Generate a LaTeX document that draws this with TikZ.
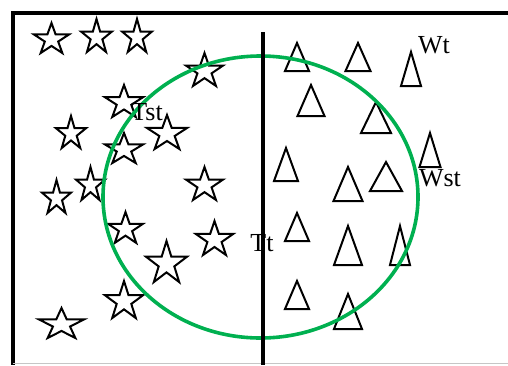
\documentclass[tikz,border=0pt]{standalone}
\usepackage{fontspec}
\setmainfont{Liberation Serif}
\usetikzlibrary{shapes.geometric}
\definecolor{ringgreen}{RGB}{0,176,80}

\tikzset{
  starmark/.style={star, star points=5, star point ratio=2.618, draw, line width=2pt, inner sep=0pt},
  trimark/.style={draw, line width=2pt, line join=miter},
  lbl/.style={font=\fontsize{26}{30}\selectfont, inner sep=0pt}
}

\begin{document}
\begin{tikzpicture}[x=1pt,y=-1pt]
  \useasboundingbox (0,0) rectangle (508,365);

  % frame
  \draw[line width=4pt] (508,12.5) -- (12.7,12.5) -- (12.7,365);
  \draw[gray!45, line width=1pt] (12.7,363.8) -- (508,363.8);

  % stars (left)
  \foreach \n/\x/\y/\r/\s in {1/51.5/39.6/16.6/1.11, 2/96.5/37.2/18.2/0.89, 3/137/37.2/18.2/0.86,
      4/204.5/71.2/18.2/1.07, 5/124/102.7/17.7/1.13, 6/71/133.7/17.7/0.89, 7/167/133.8/18.8/1.12,
      8/124/149.6/16.6/1.2, 9/56.5/198.2/18.2/0.84, 10/90.5/185.2/18.2/0.84, 11/204.5/185.2/18.2/1.07,
      12/125.5/229.1/17.1/1.07, 13/214.5/239.8/18.8/1.04, 14/166.5/263.7/22.7/0.95,
      15/124/301.5/20.5/0.98, 16/61.5/324.6/16.6/1.42}
    \node[starmark, minimum size={2*\r pt}, xscale=\s] (s\n) at (\x,\y) {};

  % triangles (right)
  \foreach \x/\t/\b/\w in {297/43/71/24, 358/43/71/25, 411/52/86/20, 311/85/116/27, 376/102/133/30,
      430/133/167/21, 286/148/181/24, 348/167/201/29, 386/162/191/32, 297/213/241/24,
      348/226/265/28, 400/226/265/20, 297/281/309/24, 348/294/329/28}
    \draw[trimark] (\x,\t) -- ({\x+\w/2},\b) -- ({\x-\w/2},\b) -- cycle;

  % ellipse
  \draw[ringgreen, line width=3.6pt] (260.5,197) ellipse [x radius=157.5pt, y radius=141pt];

  % middle line
  \draw[line width=3.2pt] (263,32) -- (263,365);

  % labels
  \node[lbl] (tst) at (147,112) {Tst};
  \node[lbl] (tt) at (262,243) {Tt};
  \node[lbl] (wt) at (434,45) {Wt};
  \node[lbl] (wst) at (440,178) {Wst};
\end{tikzpicture}
\end{document}
